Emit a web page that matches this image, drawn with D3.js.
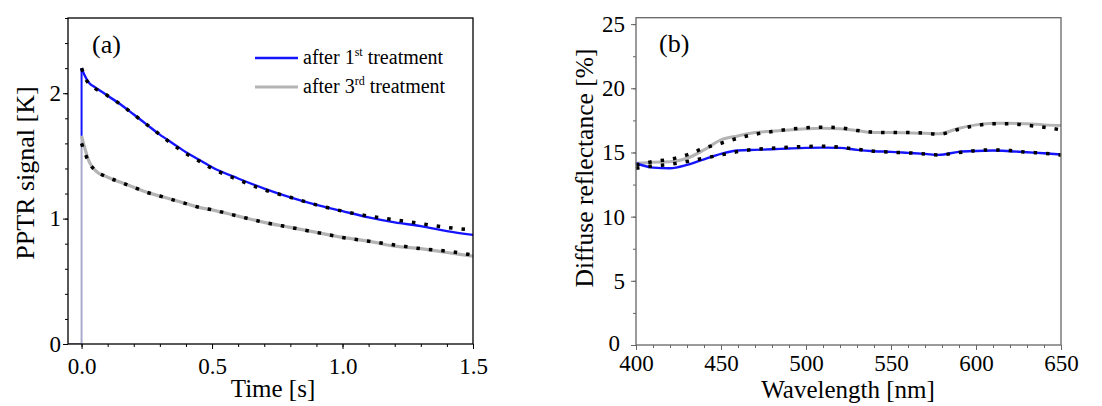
<!DOCTYPE html>
<html>
<head>
<meta charset="utf-8">
<script src="https://cdn.jsdelivr.net/npm/d3@7"></script>
<style>
  body { margin: 0; background: #fff; }
</style>
</head>
<body>
<div id="chart"></div>
<script>
// ---- Panel (a): PPTR signal vs time ----
const timeA = [0, 0.01, 0.03, 0.05, 0.1, 0.15, 0.2, 0.25, 0.3, 0.35, 0.4, 0.45, 0.5, 0.6, 0.7, 0.8, 0.9, 1.0, 1.1, 1.2, 1.3, 1.4, 1.5];
const first1 = [2.2, 2.15, 2.08, 2.05, 1.98, 1.91, 1.83, 1.75, 1.67, 1.60, 1.53, 1.47, 1.41, 1.32, 1.24, 1.17, 1.11, 1.06, 1.01, 0.97, 0.94, 0.90, 0.87];
const fit1 = [2.2, 2.14, 2.07, 2.04, 1.98, 1.91, 1.83, 1.75, 1.67, 1.59, 1.52, 1.46, 1.40, 1.31, 1.23, 1.17, 1.11, 1.06, 1.02, 0.99, 0.96, 0.93, 0.91];
const third3 = [1.66, 1.58, 1.45, 1.39, 1.33, 1.29, 1.25, 1.21, 1.18, 1.15, 1.12, 1.09, 1.07, 1.02, 0.97, 0.93, 0.89, 0.85, 0.82, 0.78, 0.76, 0.73, 0.70];
const fit3 = [1.60, 1.54, 1.44, 1.39, 1.33, 1.29, 1.25, 1.21, 1.18, 1.15, 1.12, 1.09, 1.07, 1.02, 0.97, 0.93, 0.89, 0.85, 0.82, 0.79, 0.76, 0.74, 0.71];
const preTime = [-0.05, 0];
const xTicksA = [0.0, 0.5, 1.0, 1.5];
const yTicksA = [0, 1, 2];

// ---- Panel (b): diffuse reflectance vs wavelength ----
const wavelength = [400, 410, 420, 430, 440, 450, 460, 470, 480, 490, 500, 510, 520, 530, 540, 550, 560, 570, 578, 590, 600, 610, 620, 630, 640, 650];
const refl1 = [14.16, 13.82, 13.77, 14.03, 14.47, 14.89, 15.15, 15.2, 15.25, 15.31, 15.36, 15.38, 15.36, 15.2, 15.1, 15.05, 14.97, 14.89, 14.81, 15.05, 15.12, 15.15, 15.1, 15.02, 14.94, 14.84];
const reflFit1 = [13.77, 13.95, 14.08, 14.29, 14.55, 14.81, 15.07, 15.25, 15.33, 15.41, 15.46, 15.49, 15.41, 15.25, 15.1, 15.02, 14.97, 14.89, 14.81, 14.99, 15.15, 15.2, 15.15, 15.02, 14.94, 14.79];
const refl3 = [14.16, 14.24, 14.27, 14.55, 15.2, 15.98, 16.29, 16.55, 16.66, 16.76, 16.84, 16.89, 16.84, 16.71, 16.55, 16.55, 16.53, 16.5, 16.45, 16.89, 17.15, 17.28, 17.28, 17.23, 17.15, 17.1];
const reflFit3 = [14.03, 14.29, 14.47, 14.81, 15.33, 15.72, 16.11, 16.42, 16.63, 16.81, 16.92, 16.97, 16.92, 16.71, 16.58, 16.55, 16.55, 16.5, 16.42, 16.81, 17.1, 17.23, 17.23, 17.12, 16.97, 16.76];
const xTicksB = [400, 450, 500, 550, 600, 650];
const yTicksB = [0, 5, 10, 15, 20, 25];

const legendLabels = [["after 1", "st", " treatment"], ["after 3", "rd", " treatment"]];

const BLUE = "#1414ff";
const GRAY = "#b4b4b4";
const FONT = "'Liberation Serif', 'Times New Roman', serif";

const svg = d3.select("#chart").append("svg")
    .attr("width", 1102)
    .attr("height", 406)
    .attr("font-family", FONT);

function drawFrame(g, x, y, opts) {
    const [x0, x1] = x.range();
    const [y0, y1] = y.range();
    // minor ticks
    g.append("g")
        .attr("transform", `translate(0,${y0})`)
        .call(d3.axisBottom(x).tickValues(opts.xMinor).tickSize(3).tickFormat(""))
        .call(a => a.select(".domain").remove())
        .selectAll("line").attr("stroke", opts.frame);
    g.append("g")
        .attr("transform", `translate(${x0},0)`)
        .call(d3.axisLeft(y).tickValues(opts.yMinor).tickSize(3).tickFormat(""))
        .call(a => a.select(".domain").remove())
        .selectAll("line").attr("stroke", opts.frame);
    // major ticks + labels
    const xa = g.append("g")
        .attr("transform", `translate(0,${y0})`)
        .call(d3.axisBottom(x).tickValues(opts.xTicks).tickSize(5).tickPadding(opts.xPad).tickFormat(opts.xFmt))
        .call(a => a.select(".domain").remove());
    xa.attr("font-family", FONT);
    xa.selectAll("line").attr("stroke", opts.frame);
    xa.selectAll("text").attr("font-size", "23px").attr("fill", "#000");
    const ya = g.append("g")
        .attr("transform", `translate(${x0},0)`)
        .call(d3.axisLeft(y).tickValues(opts.yTicks).tickSize(5).tickPadding(opts.yPad).tickFormat(opts.yFmt))
        .call(a => a.select(".domain").remove());
    ya.attr("font-family", FONT);
    ya.selectAll("line").attr("stroke", opts.frame);
    ya.selectAll("text").attr("font-size", "23px").attr("fill", "#000");
    // the corner "0" sits a little clear of the first x label
    if (opts.nudgeZero) {
        ya.selectAll("text").filter(d => d === 0).attr("dx", -5).attr("dy", "0.22em");
    }
    // box
    g.append("rect")
        .attr("x", x0).attr("y", y1)
        .attr("width", x1 - x0).attr("height", y0 - y1)
        .attr("fill", "none")
        .attr("stroke", opts.frame)
        .attr("stroke-width", 1.3);
}

// ================= Panel (a) =================
{
    const g = svg.append("g");
    const x = d3.scaleLinear().domain([-0.052, 1.5]).range([68, 473]);
    const y = d3.scaleLinear().domain([0, 2.6]).range([344, 18]);

    g.append("clipPath").attr("id", "clipA")
        .append("rect").attr("x", 68).attr("y", 18).attr("width", 405).attr("height", 326);

    const plot = g.append("g").attr("clip-path", "url(#clipA)");
    const line = d3.line().x(d => x(d[0])).y(d => y(d[1])).curve(d3.curveMonotoneX);
    const lin = d3.line().x(d => x(d[0])).y(d => y(d[1]));

    // baseline before the pulse and vertical rise
    plot.append("path")
        .attr("d", lin([[preTime[0], 0], [preTime[1], 0], [timeA[0], third3[0]]]))
        .attr("fill", "none").attr("stroke", "#aaaacc").attr("stroke-width", 2);
    plot.append("path")
        .attr("d", lin([[timeA[0], third3[0]], [timeA[0], first1[0]]]))
        .attr("fill", "none").attr("stroke", BLUE).attr("stroke-width", 2);

    plot.append("path")
        .attr("d", line(timeA.map((t, i) => [t, third3[i]])))
        .attr("fill", "none").attr("stroke", GRAY).attr("stroke-width", 3.2);
    plot.append("path")
        .attr("d", line(timeA.map((t, i) => [t, first1[i]])))
        .attr("fill", "none").attr("stroke", BLUE).attr("stroke-width", 2.4);

    [fit1, fit3].forEach(s => {
        plot.append("path")
            .attr("d", line(timeA.map((t, i) => [t, s[i]])))
            .attr("fill", "none").attr("stroke", "#000")
            .attr("stroke-width", 3.5).attr("stroke-dasharray", "3.5,9");
    });

    drawFrame(g, x, y, {
        frame: "#000",
        xTicks: xTicksA, yTicks: yTicksA,
        xMinor: d3.range(0, 1.51, 0.1), yMinor: d3.range(0, 2.61, 0.2),
        xFmt: d3.format(".1f"), yFmt: d3.format("d"),
        xPad: 9, yPad: 2
    });

    g.append("text").attr("x", 92).attr("y", 53)
        .attr("font-size", "26px").text("(a)");

    // legend
    const colors = [BLUE, GRAY];
    const widths = [2.4, 3.2];
    legendLabels.forEach((lab, i) => {
        const ly = 58 + i * 29;
        g.append("line").attr("x1", 255).attr("x2", 298).attr("y1", ly).attr("y2", ly)
            .attr("stroke", colors[i]).attr("stroke-width", widths[i]);
        const t = g.append("text").attr("x", 303).attr("y", ly + 6).attr("font-size", "20px");
        t.append("tspan").text(lab[0]);
        t.append("tspan").attr("font-size", "12px").attr("dy", -8).text(lab[1]);
        t.append("tspan").attr("dy", 8).text(lab[2]);
    });

    g.append("text")
        .attr("x", 273).attr("y", 397)
        .attr("text-anchor", "middle").attr("font-size", "25px")
        .text("Time [s]");
    g.append("text")
        .attr("transform", "translate(34,173) rotate(-90)")
        .attr("text-anchor", "middle").attr("font-size", "26px")
        .text("PPTR signal [K]");
}

// ================= Panel (b) =================
{
    const g = svg.append("g");
    const x = d3.scaleLinear().domain([400, 650]).range([636, 1061]);
    const y = d3.scaleLinear().domain([0, 25.5]).range([345, 17.7]);

    const line = d3.line().x(d => x(d[0])).y(d => y(d[1])).curve(d3.curveMonotoneX);

    g.append("path")
        .attr("d", line(wavelength.map((w, i) => [w, refl3[i]])))
        .attr("fill", "none").attr("stroke", GRAY).attr("stroke-width", 3);
    g.append("path")
        .attr("d", line(wavelength.map((w, i) => [w, refl1[i]])))
        .attr("fill", "none").attr("stroke", BLUE).attr("stroke-width", 2.4);
    [reflFit1, reflFit3].forEach(s => {
        g.append("path")
            .attr("d", line(wavelength.map((w, i) => [w, s[i]])))
            .attr("fill", "none").attr("stroke", "#000")
            .attr("stroke-width", 3.5).attr("stroke-dasharray", "3.5,9");
    });

    drawFrame(g, x, y, {
        frame: "#666",
        xTicks: xTicksB, yTicks: yTicksB,
        xMinor: d3.range(400, 651, 10), yMinor: d3.range(0, 25.1, 2.5),
        xFmt: d3.format("d"), yFmt: d3.format("d"),
        xPad: 5, yPad: 6, nudgeZero: true
    });

    g.append("text").attr("x", 659).attr("y", 52)
        .attr("font-size", "26px").text("(b)");

    g.append("text")
        .attr("x", 848).attr("y", 398)
        .attr("text-anchor", "middle").attr("font-size", "25px")
        .text("Wavelength [nm]");
    g.append("text")
        .attr("transform", "translate(593,168) rotate(-90)")
        .attr("text-anchor", "middle").attr("font-size", "25.5px")
        .text("Diffuse reflectance [%]");
}
</script>
</body>
</html>
